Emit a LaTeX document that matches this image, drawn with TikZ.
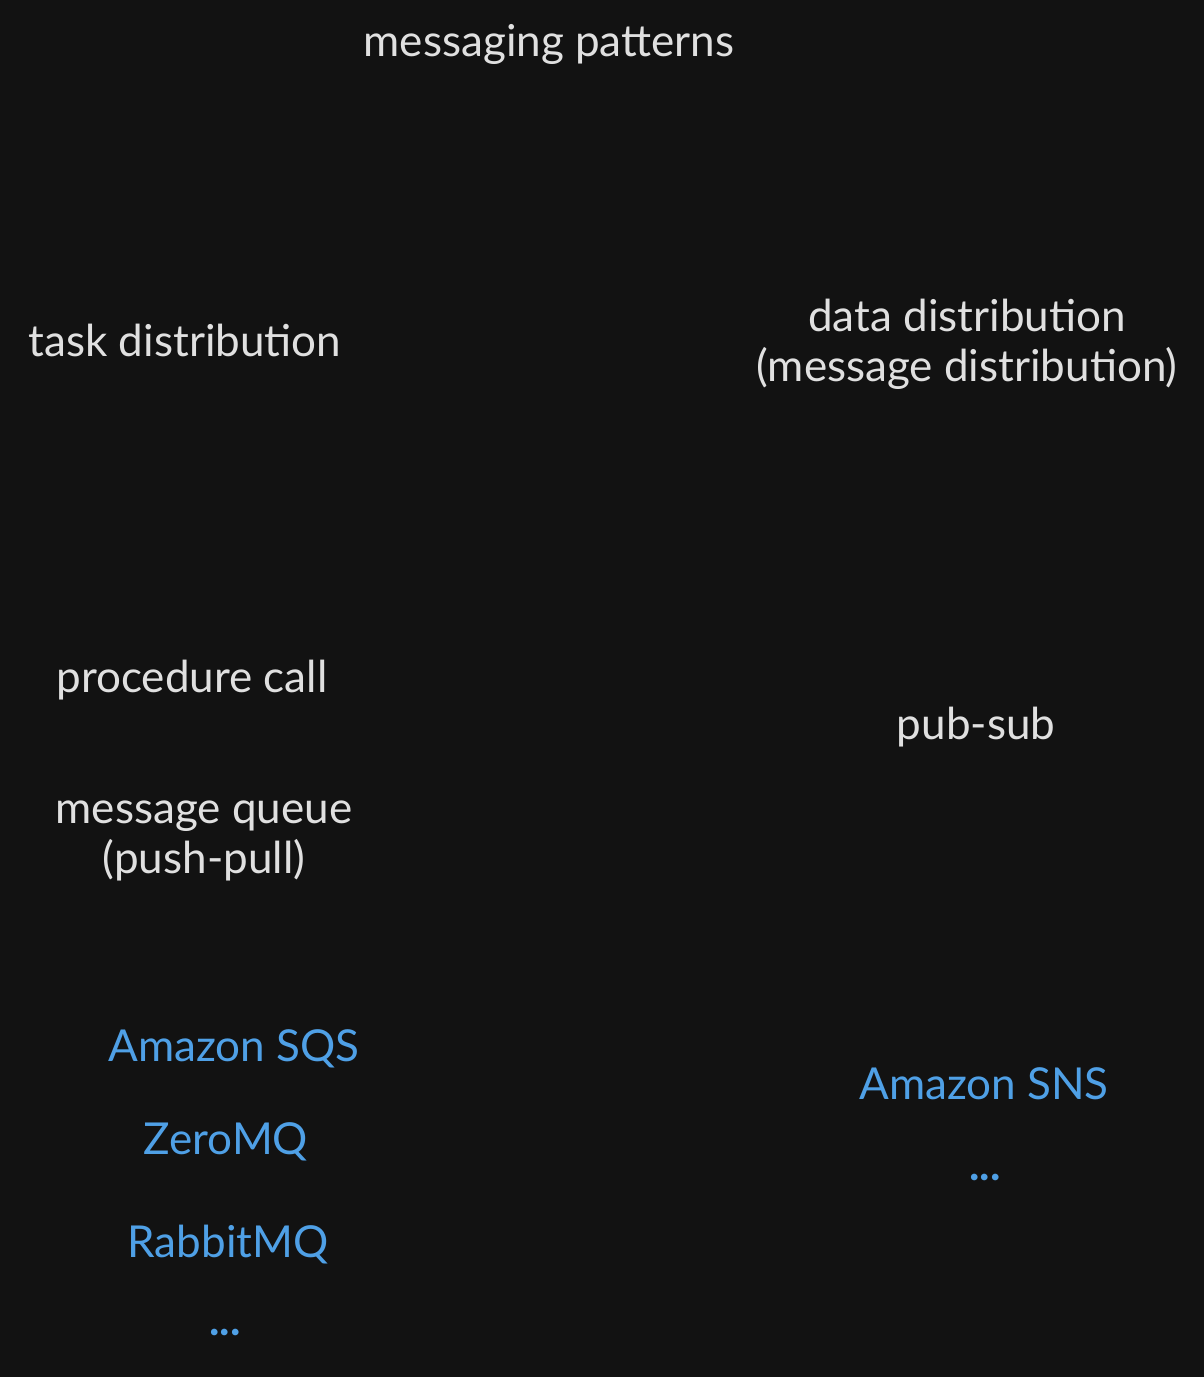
\documentclass[tikz,border=0pt]{standalone}
\usepackage{fontspec}
\setmainfont{Lato}
\usepackage{tikz}
\usetikzlibrary{positioning}

\definecolor{bgdark}{HTML}{121212}
\definecolor{inkwhite}{HTML}{E0E0E0}
\definecolor{inkblue}{HTML}{4FA0E6}

\begin{document}
\begin{tikzpicture}[x=1pt, y=-1pt,
  every node/.style={font=\fontsize{44}{50}\selectfont, inner sep=0pt, align=center},
  label/.style={text=inkwhite},
  product/.style={text=inkblue}]
  \fill[bgdark] (0,0) rectangle (1204,1377);
  % top and the two branches
  \node[label] (patterns) at (549,44) {messaging patterns};
  \node[label] (taskdist) at (185,340) {task distribution};
  \node[label] (datadist) at (967,344) {data distribution\\(message distribution)};
  % task distribution side
  \node[label] (proccall) at (192,680) {procedure call};
  \node[label] (msgqueue) at (204,841) {message queue\\(push-pull)};
  \node[product] (sqs) at (234,1049) {Amazon SQS};
  \node[product] (zeromq) at (226,1142) {ZeroMQ};
  \node[product] (rabbit) at (228,1245) {RabbitMQ};
  \node[product] (moreleft) at (225,1332) {\textbf{...}};
  % data distribution side
  \node[label] (pubsub) at (976,727) {pub-sub};
  \node[product] (sns) at (984,1084) {Amazon SNS};
  \node[product] (moreright) at (985,1177) {\textbf{...}};
\end{tikzpicture}
\end{document}
